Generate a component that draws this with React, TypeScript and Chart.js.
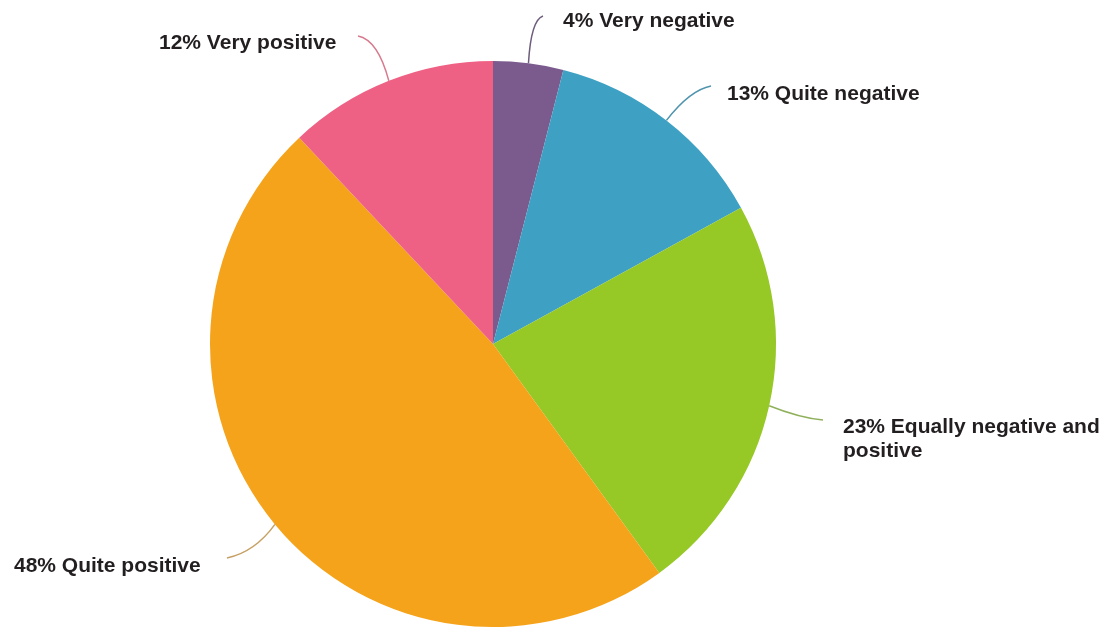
import React, { useEffect, useRef } from "react";
import { Chart, registerables } from "chart.js";

Chart.register(...registerables);

const categories = ["Very negative", "Quite negative", "Equally negative and positive", "Quite positive", "Very positive"];
const values = [4, 13, 23, 48, 12];
const sliceColors = ["#7b5b8e", "#3ea1c4", "#96c826", "#f5a31b", "#ef6184"];
const lineColors = ["#6e5c7c", "#4f94ad", "#8fb05a", "#c7a064", "#d87a8e"];

// label anchor (text left x, first baseline y) and leader line end/control points
const labelLayout = [
  { x: 563, y: 27, ex: 543, ey: 16, cx: 531, cy: 20 },
  { x: 727, y: 100, ex: 711, ey: 86, cx: 690, cy: 90 },
  { x: 843, y: 433, ex: 823, ey: 420, cx: 800, cy: 418 },
  { x: 14, y: 572, ex: 227, ey: 558, cx: 255, cy: 552 },
  { x: 159, y: 49, ex: 358, ey: 36, cx: 378, cy: 40 },
];

const leaderPlugin = {
  id: "leaderLabels",
  afterDatasetsDraw(chart: any) {
    const ctx = chart.ctx;
    const meta = chart.getDatasetMeta(0);
    ctx.save();
    meta.data.forEach((arc: any, i: number) => {
      const p = arc.getProps(["x", "y", "startAngle", "endAngle", "outerRadius"], true);
      const mid = (p.startAngle + p.endAngle) / 2;
      const sx = p.x + Math.cos(mid) * p.outerRadius;
      const sy = p.y + Math.sin(mid) * p.outerRadius;
      const L = labelLayout[i];
      ctx.beginPath();
      ctx.moveTo(sx, sy);
      ctx.quadraticCurveTo(L.cx, L.cy, L.ex, L.ey);
      ctx.strokeStyle = lineColors[i];
      ctx.lineWidth = 1.5;
      ctx.stroke();

      ctx.font = "bold 21px 'Liberation Sans', Arial, sans-serif";
      ctx.fillStyle = "#231f20";
      ctx.textBaseline = "alphabetic";
      ctx.textAlign = "left";
      const text = `${values[i]}% ${categories[i]}`;
      const maxW = chart.width - L.x - 2;
      const words = text.split(" ");
      const lines: string[] = [];
      let cur = "";
      words.forEach((w) => {
        const t = cur ? cur + " " + w : w;
        if (ctx.measureText(t).width > maxW && cur) {
          lines.push(cur);
          cur = w;
        } else cur = t;
      });
      if (cur) lines.push(cur);
      lines.forEach((ln, k) => ctx.fillText(ln, L.x, L.y + k * 24));
    });
    ctx.restore();
  },
};

export default function App() {
  const ref = useRef<HTMLCanvasElement>(null);
  useEffect(() => {
    if (!ref.current) return;
    const chart = new Chart(ref.current, {
      type: "pie",
      data: {
        labels: categories,
        datasets: [
          {
            data: values,
            backgroundColor: sliceColors,
            borderWidth: 0,
          },
        ],
      },
      options: {
        responsive: false,
        animation: false,
        layout: { padding: { left: 210, right: 335, top: 61, bottom: 0 } },
        plugins: { legend: { display: false }, tooltip: { enabled: false } },
      },
      plugins: [leaderPlugin],
    });
    return () => chart.destroy();
  }, []);
  return (
    <div style={{ position: "fixed", left: 0, top: 0, width: 1111, height: 627, background: "#fff" }}>
      <canvas ref={ref} width={1111} height={627} style={{ display: "block" }} />
    </div>
  );
}
